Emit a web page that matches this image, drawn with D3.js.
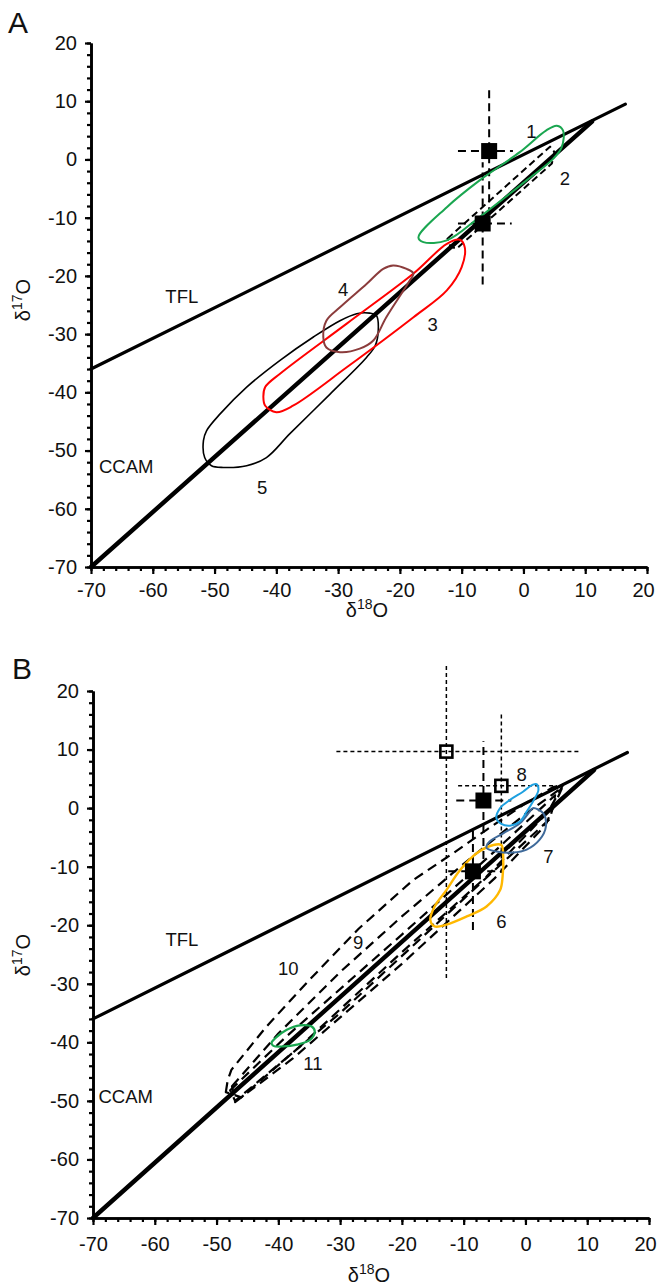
<!DOCTYPE html>
<html><head><meta charset="utf-8">
<script src="https://cdn.jsdelivr.net/npm/d3@7"></script>
<style>body{margin:0;background:#fff}text{font-family:"Liberation Sans",Arial,sans-serif;fill:#111}</style>
</head><body><svg id="c" width="659" height="1288"></svg>
<script>
// ---------- DATA ----------
const majorTicks = [-70,-60,-50,-40,-30,-20,-10,0,10,20];
const tickLabels = ["-70","-60","-50","-40","-30","-20","-10","0","10","20"];
const tflLine = [[-70,-36],[16.5,9.5]];
const ccamLine = [[-70,-70],[11.1,6.5]];

// Panel A
const regionA1 = [[-17.0,-13.4],[-12.4,-8.2],[-7.1,-3.6],[-0.6,1.25],[3.7,5.0],[5.4,5.8],[6.4,5.0],[6.2,2.1],[4.8,0.1],[0.5,-3.6],[-7.1,-9.9],[-12.4,-13.9],[-16.2,-14.2]];
const regionA2 = [[-12.3,-13.6],[4.3,2.2],[5.0,1.3],[4.6,-0.7],[-10.8,-15.3],[-11.8,-15.0]];
const regionA3 = [[-42.1,-40.8],[-41.8,-42.3],[-40.0,-43.4],[-37.3,-42.3],[-28.6,-35.7],[-17.8,-27.1],[-12.4,-22.5],[-10.0,-18.5],[-9.5,-15.1],[-10.3,-13.8],[-12.4,-14.5],[-17.8,-19.6],[-28.6,-28.2],[-39.4,-36.8],[-41.8,-39.1]];
const regionA4 = [[-32.4,-30.5],[-31.9,-32.3],[-29.7,-33.1],[-26.5,-32.5],[-24.3,-31.1],[-22.2,-27.1],[-18.4,-20.8],[-17.8,-19.6],[-18.9,-18.8],[-21.1,-18.2],[-22.7,-18.8],[-25.4,-21.4],[-29.7,-25.4],[-31.9,-27.7]];
const regionA5 = [[-51.8,-48.3],[-51.6,-51.2],[-50.5,-52.6],[-48.6,-52.9],[-44.8,-52.6],[-41.6,-51.2],[-37.8,-47.1],[-31.3,-40.3],[-25.4,-34.0],[-24.0,-32.0],[-23.5,-29.4],[-23.8,-26.8],[-24.9,-26.4],[-27.0,-26.5],[-29.7,-27.7],[-34.0,-30.5],[-39.4,-34.5],[-44.8,-39.1],[-49.1,-43.7],[-51.3,-46.6]];
const squaresA = [
  {x:-5.55, y:1.44, xlo:-10.6, xhi:-1.7, ylo:-9.6, yhi:12.4},
  {x:-6.6, y:-11.0, xlo:-10.6, xhi:-1.9, ylo:-21.5, yhi:-0.5}
];
const labelsA = [["TFL",-55.3,-23.5],["CCAM",-64.3,-52.8],["1",1.3,4.8],["2",6.7,-3.2],["3",-14.7,-28.4],["4",-29.2,-22.4],["5",-42.3,-56.3]];

// Panel B
const regionB6 = [[-3.9,-6.3],[-3.6,-8.3],[-3.7,-11.7],[-4.1,-14.0],[-6.3,-16.8],[-9.5,-18.5],[-12.8,-19.9],[-14.7,-20.2],[-15.4,-19.1],[-14.7,-16.8],[-12.8,-14.0],[-10.6,-10.6],[-7.9,-7.7],[-5.2,-6.3]];
const regionB7 = [[1.2,0.0],[2.9,-0.9],[3.3,-3.2],[2.3,-5.4],[0.2,-7.1],[-2.0,-7.6],[-4.7,-7.4],[-6.3,-6.8],[-5.8,-5.7],[-3.6,-4.3],[-0.9,-2.6],[0.7,-0.6]];
const regionB8 = [[1.8,4.1],[2.1,3.1],[1.2,1.1],[0.2,-0.6],[-0.9,-2.3],[-2.5,-3.0],[-3.9,-2.7],[-4.7,-1.7],[-4.1,0.0],[-2.5,1.4],[-0.4,2.8],[1.2,4.0]];
const regionB11 = [[-41.1,-40.1],[-40.5,-39.3],[-38.7,-37.9],[-36.5,-37.1],[-34.6,-37.3],[-34.1,-38.2],[-34.9,-39.6],[-37.0,-40.4],[-39.2,-40.7],[-40.8,-40.6]];
const regionB10 = [[-48.5,-48.5],[-48.2,-46.5],[-47.6,-44.7],[-42,-37.4],[-35.2,-29.6],[-27,-20.6],[-18.2,-12.3],[-11.7,-7.7],[-6.3,-3.7],[0,0.8],[4.5,3.6],[6.1,4.0],[3.7,-0.6],[-6.3,-11.7],[-20,-24.6],[-36.5,-40.7],[-46,-49.4]];
const regionB9 = [[-47.5,-47.5],[-40,-38.5],[-30,-28.0],[-20,-18.5],[-10,-9.5],[0,-1.0],[5,2.8],[6.0,3.6],[3.2,-3.0],[-5,-12.0],[-20,-26.6],[-37.6,-42.7],[-47,-50.2]];
const regionB12 = [[-47.8,-48.2],[-38.7,-39.0],[-20,-21.6],[-5,-7.4],[4.8,2.2],[4,-1.8],[-10,-15.5],[-30,-35.0],[-47,-50.0]];
const squaresBfilled = [
  {x:-6.8, y:1.3, xlo:-11.2, xhi:-2.3, ylo:-8.7, yhi:11.4},
  {x:-8.5, y:-10.8, xlo:-12.5, xhi:-3.9, ylo:-20.8, yhi:-3.2}
];
const squaresBopen = [
  {x:-12.8, y:9.65, xlo:-30.6, xhi:8.6, ylo:-29, yhi:24.5},
  {x:-3.9, y:3.8, xlo:-10.9, xhi:5.1, ylo:-11, yhi:16.5}
];
const labelsB = [["TFL",-55.6,-22.5],["CCAM",-64.7,-49.3],["10",-38.4,-27.4],["9",-27.1,-23.0],["11",-34.4,-43.6],["6",-3.9,-19.4],["7",3.7,-8.3],["8",-0.6,5.7]];

// ---------- DRAW ----------
const svg = d3.select("#c");
const minorTicks = d3.range(-70, 20.01, 2);
const fmt = d => tickLabels[majorTicks.indexOf(d)];

function panel(letter, xr, yr, letterPos, ytitleY, xtitleY, xlabPad) {
  const x = d3.scaleLinear([-70,20], xr);
  const y = d3.scaleLinear([-70,20], yr);
  const g = svg.append("g");
  g.append("text").attr("x", letterPos[0]).attr("y", letterPos[1]).attr("font-size", 30).text(letter);
  const yMinor = g.append("g").attr("transform", `translate(${xr[0]},0)`)
    .call(d3.axisLeft(y).tickValues(minorTicks).tickSize(4).tickSizeOuter(0).tickFormat(""));
  const yMajor = g.append("g").attr("transform", `translate(${xr[0]},0)`)
    .call(d3.axisLeft(y).tickValues(majorTicks).tickSize(6).tickSizeOuter(0).tickPadding(8).tickFormat(fmt));
  const xMinor = g.append("g").attr("transform", `translate(0,${yr[0]})`)
    .call(d3.axisBottom(x).tickValues(minorTicks).tickSize(4).tickSizeOuter(0).tickFormat(""));
  const xMajor = g.append("g").attr("transform", `translate(0,${yr[0]})`)
    .call(d3.axisBottom(x).tickValues(majorTicks).tickSize(7).tickSizeOuter(0).tickPadding(xlabPad).tickFormat(fmt));
  [yMinor,yMajor,xMinor,xMajor].forEach(a => {
    a.select(".domain").attr("stroke","#000").attr("stroke-width",2.6);
    a.selectAll(".tick line").attr("stroke","#000").attr("stroke-width",2.2);
    a.selectAll(".tick text").attr("font-size",20).attr("fill","#111")
      .attr("font-family",'"Liberation Sans",Arial,sans-serif');
  });
  xMajor.selectAll(".tick text").filter(d => d === 20).attr("dx", -4);
  const yt = g.append("text").attr("transform", `translate(30,${ytitleY}) rotate(-90)`)
    .attr("text-anchor","middle").attr("font-size",20);
  yt.append("tspan").text("δ");
  yt.append("tspan").attr("font-size",14).attr("dy",-8).text("17");
  yt.append("tspan").attr("dy",8).text("O");
  const xt = g.append("text").attr("x", (xr[0]+xr[1])/2 - 2).attr("y", xtitleY)
    .attr("text-anchor","middle").attr("font-size",20);
  xt.append("tspan").text("δ");
  xt.append("tspan").attr("font-size",14).attr("dy",-8).text("18");
  xt.append("tspan").attr("dy",8).text("O");
  return {g, x, y};
}

function drawCurve(p, pts, color, width, dash, smooth) {
  const line = d3.line().x(d => p.x(d[0])).y(d => p.y(d[1]))
    .curve(smooth ? d3.curveCatmullRomClosed.alpha(0.5) : d3.curveLinearClosed);
  p.g.append("path").attr("d", line(pts)).attr("fill","none").attr("stroke",color)
    .attr("stroke-width",width).attr("stroke-dasharray", dash || null).attr("stroke-linejoin","round");
}
function drawLine(p, pts, width) {
  const line = d3.line().x(d => p.x(d[0])).y(d => p.y(d[1]));
  p.g.append("path").attr("d", line(pts)).attr("fill","none").attr("stroke","#000")
    .attr("stroke-width",width).attr("stroke-linecap","round");
}
function errBars(p, data, dash, width) {
  data.forEach(d => {
    p.g.append("line").attr("x1",p.x(d.xlo)).attr("x2",p.x(d.xhi)).attr("y1",p.y(d.y)).attr("y2",p.y(d.y))
      .attr("stroke","#000").attr("stroke-width",width).attr("stroke-dasharray",dash);
    p.g.append("line").attr("x1",p.x(d.x)).attr("x2",p.x(d.x)).attr("y1",p.y(d.ylo)).attr("y2",p.y(d.yhi))
      .attr("stroke","#000").attr("stroke-width",width).attr("stroke-dasharray",dash);
  });
}
function squares(p, data, size, filled) {
  p.g.selectAll(null).data(data).enter().append("rect")
    .attr("x", d => p.x(d.x) - size/2).attr("y", d => p.y(d.y) - size/2)
    .attr("width", size).attr("height", size)
    .attr("fill", filled ? "#000" : "none").attr("stroke","#000").attr("stroke-width", filled ? 0 : 2.6);
}
function labels(p, data) {
  p.g.selectAll(null).data(data).enter().append("text")
    .attr("x", d => p.x(d[1])).attr("y", d => p.y(d[2])).attr("dy","0.35em")
    .attr("text-anchor","middle").attr("font-size",18.5).text(d => d[0]);
}

// Panel A
const A = panel("A", [91,647], [567,43], [8,33], 300, 617, 9);
errBars(A, squaresA, "8,5", 2);
drawCurve(A, regionA2, "#000", 2, "7,4", false);
drawLine(A, tflLine, 3.2);
drawLine(A, ccamLine, 4.4);
drawCurve(A, regionA5, "#000", 1.6, null, true);
drawCurve(A, regionA3, "#ff0000", 2, null, true);
drawCurve(A, regionA4, "#8b3c3c", 2, null, true);
drawCurve(A, regionA1, "#1aa650", 2, null, true);
squares(A, squaresA, 16, true);
labels(A, labelsA);

// Panel B
const B = panel("B", [93,649], [1218,691], [12,679], 955, 1282, 12);
errBars(B, squaresBopen, "4,3", 1.5);
errBars(B, squaresBfilled, "8,5", 2);
drawCurve(B, regionB10, "#000", 2.2, "10,6", false);
drawCurve(B, regionB9, "#000", 2.2, "10,6", false);
drawCurve(B, regionB12, "#000", 2.2, "10,6", false);
drawLine(B, tflLine, 3.2);
drawLine(B, ccamLine, 4.4);
drawCurve(B, regionB6, "#ffb800", 2.4, null, true);
drawCurve(B, regionB7, "#3f6a9a", 2, null, true);
drawCurve(B, regionB8, "#1ea0e0", 2, null, true);
drawCurve(B, regionB11, "#1aa650", 2.2, null, true);
squares(B, squaresBopen, 12, false);
squares(B, squaresBfilled, 16, true);
labels(B, labelsB);
</script></body></html>
